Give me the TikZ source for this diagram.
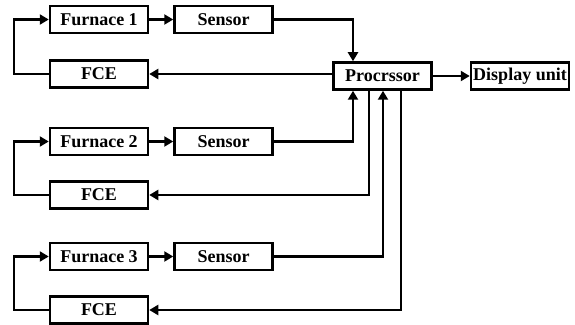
\documentclass[tikz,border=0pt]{standalone}
\usepackage{fontspec}
\setmainfont{Liberation Serif}
\usetikzlibrary{arrows.meta, positioning}

\begin{document}
\begin{tikzpicture}[
    x=1pt, y=1pt,
    font=\fontsize{18}{21}\selectfont\bfseries,
    box/.style={draw, line width=2.5pt, align=center, inner sep=2pt,
                minimum width=98pt, minimum height=27pt},
    arr/.style={-{Triangle[length=9pt, width=10pt]}, line width=2.5pt},
]
    \useasboundingbox (0,0) rectangle (575,324);

    %==================== LOOP 1 ====================
    \node[box] (fur1) at (99,304.5) {Furnace 1};
    \node[box, right=24pt of fur1] (sen1) {Sensor};
    \node[box, below=25pt of fur1] (fce1) {FCE};

    %==================== LOOP 2 ====================
    \node[box] (fur2) at (99,182.5) {Furnace 2};
    \node[box, right=24pt of fur2] (sen2) {Sensor};
    \node[box, below=24pt of fur2] (fce2) {FCE};

    %==================== LOOP 3 ====================
    \node[box] (fur3) at (99,67.5) {Furnace 3};
    \node[box, right=24pt of fur3] (sen3) {Sensor};
    \node[box, below=24pt of fur3] (fce3) {FCE};

    %==================== PROCESSOR / DISPLAY ====================
    \node[box] (proc) at (382.5,248) {Procrssor};
    \node[box, right=37pt of proc] (disp) {Display unit};
    \draw[arr] (proc) -- (disp);

    % furnace -> sensor, FCE -> furnace
    \foreach \i in {1,2,3} {
        \draw[arr] (fur\i) -- (sen\i);
        \draw[arr] (fce\i.west) -- ++(-35,0) |- (fur\i.west);
    }

    % sensors -> processor
    \draw[arr] (sen1.east) -| ([xshift=-29.5pt]proc.north);
    \draw[arr] (sen2.east) -| ([xshift=-29.5pt]proc.south);
    \draw[arr] (sen3.east) -| ([xshift=0.5pt]proc.south);

    % processor -> FCEs
    \draw[arr] (fce1.east -| proc.west) -- (fce1.east);
    \draw[arr] ([xshift=-13.5pt]proc.south) |- (fce2.east);
    \draw[arr] ([xshift=18.5pt]proc.south) |- (fce3.east);

\end{tikzpicture}
\end{document}
